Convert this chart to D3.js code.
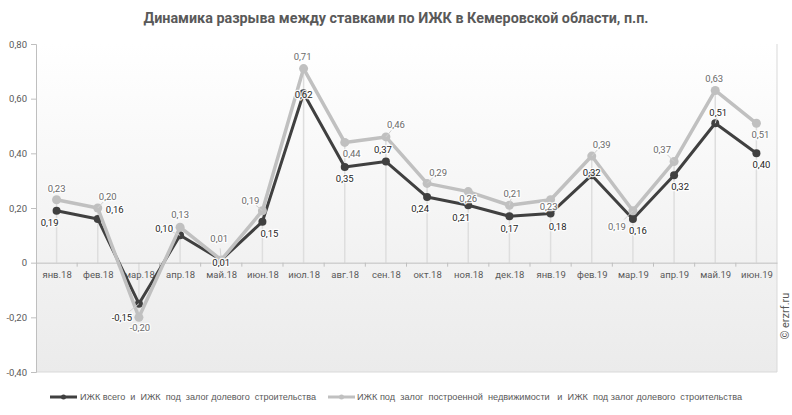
<!DOCTYPE html>
<html><head><meta charset="utf-8">
<script src="https://cdn.jsdelivr.net/npm/d3@7"></script>
<style>
html,body{margin:0;padding:0;background:#fff;}
svg{display:block;font-family:Roboto,"Liberation Sans",sans-serif;}
</style></head>
<body>
<svg id="chart" width="792" height="415"></svg>
<script>
const categories = ["янв.18","фев.18","мар.18","апр.18","май.18","июн.18","июл.18","авг.18","сен.18","окт.18","ноя.18","дек.18","янв.19","фев.19","мар.19","апр.19","май.19","июн.19"];
const seriesTotal = [0.19,0.16,-0.15,0.10,0.01,0.15,0.62,0.35,0.37,0.24,0.21,0.17,0.18,0.32,0.16,0.32,0.51,0.40];
const seriesBuilt = [0.23,0.20,-0.20,0.13,0.01,0.19,0.71,0.44,0.46,0.29,0.26,0.21,0.23,0.39,0.19,0.37,0.63,0.51];
const yTicks = [-0.4,-0.2,0,0.2,0.4,0.6,0.8];
const seriesNames = ["ИЖК всего  и  ИЖК  под  залог долевого  строительства","ИЖК под  залог  построенной  недвижимости   и  ИЖК  под залог долевого  строительства"];
const title = "Динамика разрыва между ставками по ИЖК в Кемеровской области, п.п.";
const watermark = "© erzrf.ru";

// label placement (offsets of label centre from point, px)
const totalLabelOffsets = [[-7,12],[17,-9],[-17,14],[-16,-7],[0,3],[7,12],[0,1],[0,12],[-3,-12],[-7,12],[-7,12],[0,12],[7,13],[0,-3],[5,12],[6,11],[3,-11],[5,11]];
const builtLabelOffsets = [[0,-11],[10,-11],[1,10],[0,-12],[-2,-21],[-12,-10],[-1,-12],[7,11],[10,-12],[11,-11],[0,7],[3,-12],[-2,7],[10,-11],[-16,16],[-12,-12],[-1,-12],[4,11]];
const totalLeaders = [2,3,16];
const builtLeaders = [1,4,5,8,9,11,13,14,15];

const svg = d3.select("#chart");
const L = 36, R = 777, T = 44, B = 372;
const fmt = v => v === 0 ? "0" : d3.format(".2f")(v).replace(".", ",").replace("\u2212", "-");

const x = d3.scalePoint().domain(categories).range([L, R]).padding(0.5);
const xb = d3.scaleBand().domain(categories).range([L, R]);
const y = d3.scaleLinear().domain([-0.4, 0.8]).range([B, T]);

const defs = svg.append("defs");
const grad = defs.append("linearGradient").attr("id","bg").attr("x1",0).attr("y1",0).attr("x2",0).attr("y2",1);
grad.append("stop").attr("offset","0%").attr("stop-color","#ffffff");
grad.append("stop").attr("offset","100%").attr("stop-color","#ebebeb");

svg.append("rect").attr("x",L).attr("y",T).attr("width",R-L).attr("height",B-T).attr("fill","url(#bg)");

// title
svg.append("text").attr("x",396).attr("y",23).attr("text-anchor","middle")
  .attr("font-size",14).attr("font-weight","bold").attr("fill","#595959")
  .attr("textLength",505).attr("lengthAdjust","spacingAndGlyphs").text(title);

// borders
svg.append("line").attr("x1",R).attr("x2",R).attr("y1",T).attr("y2",B).attr("stroke","#d9d9d9");
svg.append("line").attr("x1",L).attr("x2",R).attr("y1",B).attr("y2",B).attr("stroke","#d9d9d9");

// drop lines
categories.forEach((c,i) => {
  const hi = Math.max(0, seriesTotal[i], seriesBuilt[i]);
  const lo = Math.min(0, seriesTotal[i], seriesBuilt[i]);
  svg.append("line").attr("x1",x(c)).attr("x2",x(c)).attr("y1",y(hi)).attr("y2",y(lo))
    .attr("stroke","#dedede").attr("stroke-width",1.5);
});

// y axis
const yAxis = svg.append("g").attr("transform",`translate(${L},0)`)
  .call(d3.axisLeft(y).tickValues(yTicks).tickSize(5).tickFormat(fmt));
yAxis.select(".domain").attr("stroke","#bfbfbf");
yAxis.selectAll(".tick line").attr("stroke","#bfbfbf");
yAxis.selectAll(".tick text").attr("fill","#595959").attr("font-size",9.5).attr("font-family","Roboto,sans-serif").attr("x",-9);

// x axis at zero
const xAxis = svg.append("g").attr("transform",`translate(0,${y(0)})`)
  .call(d3.axisBottom(x).tickSize(0).tickPadding(9));
xAxis.select(".domain").attr("stroke","#bfbfbf");
xAxis.selectAll(".tick text").attr("fill","#595959").attr("font-size",9.5).attr("font-family","Roboto,sans-serif");
// category boundary ticks
svg.append("g").selectAll("line").data(categories.slice(1)).join("line")
  .attr("x1",d=>xb(d)).attr("x2",d=>xb(d)).attr("y1",y(0)).attr("y2",y(0)+4).attr("stroke","#bfbfbf");

const line = d3.line().x((d,i)=>x(categories[i])).y(d=>y(d));

function drawSeries(vals, color, width, r, labelColor, offsets, leaders) {
  const g = svg.append("g");
  g.append("path").datum(vals).attr("d",line).attr("fill","none").attr("stroke",color)
    .attr("stroke-width",width).attr("stroke-linejoin","round");
  g.selectAll("circle").data(vals).join("circle")
    .attr("cx",(d,i)=>x(categories[i])).attr("cy",d=>y(d)).attr("r",r).attr("fill",color);
  return {g, vals, labelColor, offsets, leaders};
}
const sTot = drawSeries(seriesTotal, "#404040", 3, 4, "#1f1f1f", totalLabelOffsets, totalLeaders);
const sBuilt = drawSeries(seriesBuilt, "#c0c0c0", 3.5, 4.5, "#6b6b6b", builtLabelOffsets, builtLeaders);

function drawLabels(s) {
  const g = svg.append("g");
  s.leaders.forEach(i => {
    const px = x(categories[i]), py = y(s.vals[i]);
    const [dx,dy] = s.offsets[i];
    g.append("line").attr("x1",px).attr("y1",py).attr("x2",px+dx*0.55).attr("y2",py+dy*0.55)
      .attr("stroke","#d0d0d0").attr("stroke-width",1);
  });
  s.vals.forEach((v,i) => {
    const [dx,dy] = s.offsets[i];
    g.append("text").attr("x",x(categories[i])+dx).attr("y",y(v)+dy).attr("dy","0.35em")
      .attr("text-anchor","middle").attr("font-size",9.5).attr("fill",s.labelColor)
      .attr("stroke","rgba(255,255,255,0.85)").attr("stroke-width",2.6).attr("paint-order","stroke")
      .attr("stroke-linejoin","round")
      .text(fmt(v));
  });
}
drawLabels(sBuilt);
drawLabels(sTot);

// legend
const leg = svg.append("g");
const legendItems = [
  {name: seriesNames[0], color:"#404040", x0:50, tx:80, len:236},
  {name: seriesNames[1], color:"#c0c0c0", x0:328, tx:357, len:385}
];
legendItems.forEach(it => {
  leg.append("line").attr("x1",it.x0).attr("x2",it.x0+27).attr("y1",397).attr("y2",397)
    .attr("stroke",it.color).attr("stroke-width",3);
  leg.append("circle").attr("cx",it.x0+13.5).attr("cy",397).attr("r",2.5).attr("fill",it.color);
  leg.append("text").attr("x",it.tx).attr("y",397).attr("dy","0.35em").attr("font-size",9)
    .attr("font-family","'Liberation Sans Narrow','Liberation Sans',sans-serif")
    .attr("fill","#595959").style("white-space","pre")
    .attr("textLength",it.len).attr("lengthAdjust","spacingAndGlyphs").text(it.name);
});

// watermark
svg.append("text").attr("transform","translate(789,316) rotate(-90)").attr("text-anchor","middle")
  .attr("font-size",11).attr("fill","#595959").text(watermark);
</script>
</body></html>
